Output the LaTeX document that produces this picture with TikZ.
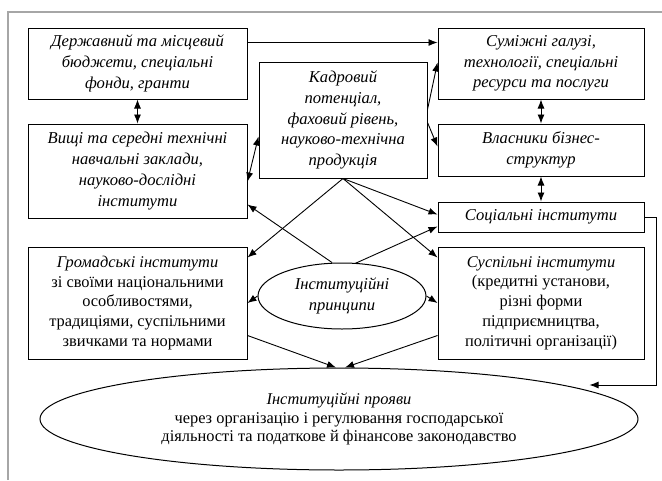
\documentclass[tikz,border=0pt]{standalone}
\usepackage{fontspec}
\setmainfont{Liberation Serif}
\usetikzlibrary{arrows.meta,shapes.geometric}
\begin{document}
\begin{tikzpicture}[x=1pt,y=-1pt,
  box/.style={draw, line width=1pt, align=center, inner sep=0pt},
  ell/.style={draw, ellipse, line width=1pt, align=center, inner sep=0pt},
  ar/.style={-{Latex[length=9pt,width=7pt]}, line width=0.9pt},
  dar/.style={{Latex[length=9pt,width=7pt]}-{Latex[length=9pt,width=7pt]}, line width=0.9pt},
  font=\fontsize{16.6}{20.7}\selectfont]
\useasboundingbox (0,0) rectangle (662,480);
\draw[gray!70, line width=2.2pt] (8,480) -- (8,12) -- (662,12);

\node[box, minimum width=219pt, minimum height=71pt] (A) at (137.5,63.5)
  {\itshape Державний та місцевий\\\itshape бюджети, спеціальні\\\itshape фонди, гранти};
\node[box, minimum width=219pt, minimum height=94pt] (B) at (137.5,171)
  {\itshape Вищі та середні технічні\\\itshape навчальні заклади,\\\itshape науково-дослідні\\\itshape інститути};
\node[box, minimum width=168pt, minimum height=116pt] (C) at (343,120)
  {\itshape Кадровий\\\itshape потенціал,\\\itshape фаховий рівень,\\\itshape науково-технічна\\\itshape продукція};
\node[box, minimum width=206pt, minimum height=71pt] (D) at (541,63.5)
  {\itshape Суміжні галузі,\\\itshape технології, спеціальні\\\itshape ресурси та послуги};
\node[box, minimum width=206pt, minimum height=52pt] (E) at (541,150)
  {\itshape Власники бізнес-\\\itshape структур};
\node[box, minimum width=206pt, minimum height=30pt] (F) at (541,217)
  {\itshape Соціальні інститути};
\node[box, minimum width=219pt, minimum height=112pt, font=\fontsize{16.4}{19.7}\selectfont] (G) at (137.5,303)
  {\textit{Громадські інститути}\\зі своїми національними\\особливостями,\\традиціями, суспільними\\звичками та нормами};
\node[box, minimum width=206pt, minimum height=112pt, font=\fontsize{16.4}{19.7}\selectfont] (H) at (541,303)
  {\textit{Суспільні інститути}\\(кредитні установи,\\різні форми\\підприємництва,\\політичні організації)};
\node[ell, minimum width=168pt, minimum height=66pt] (I) at (342,296)
  {\itshape Інституційні\\\itshape принципи};
\node[ell, minimum width=598pt, minimum height=102pt, font=\fontsize{16.4}{18.5}\selectfont] (J) at (339,419)
  {\textit{Інституційні прояви}\\через організацію і регулювання господарської\\діяльності та податкове й фінансове законодавство};

\draw[ar] ([yshift=-15pt]A.north east) -- ([yshift=-15pt]D.north west);
\draw[dar] (A.south) -- (B.north);
\draw[dar] (D.south) -- (E.north);
\draw[dar] (E.south) -- (F.north);
\draw[ar] ([yshift=-48pt]C.north east) -- ([yshift=-35pt]D.north west);
\draw[ar] ([yshift=-61pt]C.north east) -- ([yshift=-23pt]E.north west);
\draw[dar] ([yshift=-58pt]B.north east) -- ([yshift=-75pt]C.north west);
\draw[ar] (C.south) -- ([yshift=-11pt]G.north east);
\draw[ar] (C.south) -- ([yshift=-13pt]F.north west);
\draw[ar] (C.south) -- ([yshift=-11pt]H.north west);
\draw[ar] ([xshift=-10pt]I.north) -- ([yshift=-81pt]B.north east);
\draw[ar] ([xshift=13pt,yshift=-1pt]I.north) -- ([yshift=-25pt]F.north west);
\draw[ar] (I.west) -- (G.east);
\draw[ar] (I.east) -- (H.west);
\draw[ar] ([yshift=24pt]G.south east) -- ([xshift=-3pt]J.north);
\draw[ar] ([yshift=24pt]H.south west) -- ([xshift=6pt]J.north);
\draw[ar] (F.east) -- ++(12,0) -- ++(0,168) -- ++(-67,0);
\end{tikzpicture}
\end{document}
